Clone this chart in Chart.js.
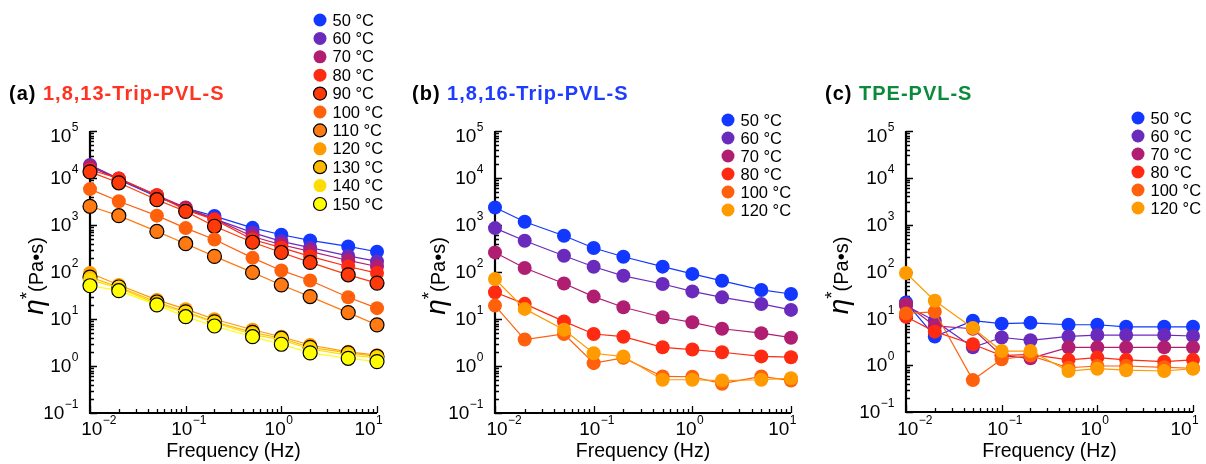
<!DOCTYPE html>
<html>
<head>
<meta charset="utf-8">
<script src="https://cdn.jsdelivr.net/npm/chart.js@4.4.0/dist/chart.umd.min.js"></script>
<style>
  html, body { margin: 0; padding: 0; background: #fff; }
  #wrap { position: relative; width: 1206px; height: 464px; overflow: hidden; }
  canvas { position: absolute; top: 0; }
</style>
</head>
<body>
<div id="wrap">
  <canvas id="chartA" width="400" height="464" style="left:0px"></canvas>
  <canvas id="chartB" width="405" height="464" style="left:400px"></canvas>
  <canvas id="chartC" width="401" height="464" style="left:805px"></canvas>
</div>
<script>
// shared frequency sweep (Hz) and axis decades
const freqHz = [0.01, 0.02, 0.05, 0.1, 0.2, 0.5, 1, 2, 5, 10];
const xDecades = [-2, -1, 0, 1];
const yDecades = [-1, 0, 1, 2, 3, 4, 5];

// (a) 1,8,13-Trip-PVL-S, complex viscosity (Pa·s)
const tempsA = ['50 °C', '60 °C', '70 °C', '80 °C', '90 °C', '100 °C', '110 °C', '120 °C', '130 °C', '140 °C', '150 °C'];
const a50 = [18000, 9200, 4000, 2300, 1550, 870, 620, 470, 350, 270];
const a60 = [19000, 9600, 4200, 2200, 1350, 690, 450, 330, 220, 168];
const a70 = [17500, 9700, 4300, 2350, 1350, 570, 380, 275, 176, 131];
const a80 = [15000, 9800, 4300, 2100, 1300, 490, 330, 215, 131, 95];
const a90 = [13500, 7900, 3450, 1950, 940, 430, 260, 160, 87, 58];
const a100 = [5800, 3200, 1580, 860, 490, 200, 108, 66, 29, 17];
const a110 = [2500, 1580, 730, 400, 215, 98, 53, 30, 13.7, 7.5];
const a120 = [95, 53, 25.5, 16.2, 9.9, 5.9, 4.2, 2.8, 2.0, 1.7];
const a130 = [78, 48, 23, 14.2, 8.7, 5.2, 3.9, 2.5, 1.9, 1.6];
const a140 = [68, 46, 21, 13.6, 8.3, 4.7, 3.6, 2.3, 1.7, 1.5];
const a150 = [51, 40, 20, 11.2, 7.1, 4.2, 2.9, 1.9, 1.46, 1.24];

// (b) 1,8,16-Trip-PVL-S
const tempsB = ['50 °C', '60 °C', '70 °C', '80 °C', '100 °C', '120 °C'];
const b50 = [2350, 1170, 590, 324, 211, 130, 91, 65, 41.5, 34];
const b60 = [860, 462, 222, 129, 83, 55.6, 38.7, 28.9, 20.9, 15.6];
const b70 = [261, 122, 57, 30, 17.8, 10.9, 8.5, 6.2, 5.0, 4.0];
const b80 = [37, 21, 8.9, 4.8, 4.2, 2.5, 2.24, 1.96, 1.6, 1.54];
const b100 = [19.3, 3.65, 4.8, 1.15, 1.49, 0.6, 0.59, 0.42, 0.6, 0.49];
const b120 = [71, 16.4, 5.9, 1.87, 1.59, 0.51, 0.51, 0.49, 0.51, 0.55];

// (c) TPE-PVL-S
const tempsC = ['50 °C', '60 °C', '70 °C', '80 °C', '100 °C', '120 °C'];
const c50 = [21.8, 4.1, 8.9, 7.7, 8.0, 7.3, 7.3, 6.6, 6.6, 6.6];
const c60 = [18.5, 8.9, 2.4, 3.9, 3.4, 4.1, 4.4, 4.4, 4.4, 4.2];
const c70 = [20, 6.9, 6.0, 1.6, 1.4, 2.4, 2.4, 2.4, 2.4, 2.4];
const c80 = [10.8, 5.2, 2.8, 1.6, 1.7, 1.3, 1.45, 1.3, 1.19, 1.3];
const c100 = [12.7, 13.8, 0.48, 1.34, 1.6, 0.88, 0.96, 0.96, 0.9, 0.86];
const c120 = [93, 23.7, 6.2, 2.0, 2.0, 0.75, 0.84, 0.78, 0.75, 0.84];

const tempColor = {
  '50 °C': '#1237ff', '60 °C': '#6a2bbd', '70 °C': '#b01e72', '80 °C': '#ff2a12',
  '90 °C': '#ff3a0a', '100 °C': '#ff600c', '110 °C': '#ff7a12', '120 °C': '#ff9a00',
  '130 °C': '#ffb900', '140 °C': '#ffdc00', '150 °C': '#ffff00'
};
const FONT = '"Liberation Sans", Arial, Helvetica, sans-serif';

function makeSets(temps, series, outlined) {
  return temps.map((t, i) => {
    const col = tempColor[t];
    const edge = outlined.includes(t);
    return {
      label: t,
      data: freqHz.map((f, k) => ({ x: f, y: series[i][k] })),
      borderColor: col,
      backgroundColor: col,
      borderWidth: 1.2,
      pointRadius: 7,
      pointBackgroundColor: col,
      pointBorderColor: edge ? '#000' : col,
      pointBorderWidth: edge ? 1.2 : 0,
      edge: edge,
      clip: false,
      order: -i
    };
  });
}

function powLabel(ctx, exp, cx, cy, align) {
  const base = '10';
  const sup = exp < 0 ? '\u2212' + (-exp) : String(exp);
  ctx.font = '19px ' + FONT;
  const wb = ctx.measureText(base).width;
  ctx.font = '12px ' + FONT;
  const ws = ctx.measureText(sup).width;
  const x0 = align === 'right' ? cx - wb - ws : cx - (wb + ws) / 2;
  ctx.textAlign = 'left';
  ctx.textBaseline = 'middle';
  ctx.font = '19px ' + FONT;
  ctx.fillText(base, x0, cy);
  ctx.font = '12px ' + FONT;
  ctx.fillText(sup, x0 + wb + 0.5, cy - 9);
}

// axes with inward ticks, power-of-ten labels, titles and the side legend
const panelDecor = {
  id: 'panelDecor',
  beforeDatasetsDraw(chart, args, o) {
    const { ctx, chartArea: a, scales: { x, y } } = chart;
    ctx.save();
    ctx.strokeStyle = '#000';
    ctx.lineWidth = 1.3;
    ctx.beginPath();
    yDecades.forEach(d => {
      for (let m = 1; m <= 9; m++) {
        const v = m * Math.pow(10, d);
        if (v < y.min * 0.999 || v > y.max * 1.001) continue;
        const py = Math.round(y.getPixelForValue(v)) + 0.5;
        ctx.moveTo(a.left, py);
        ctx.lineTo(a.left + (m === 1 ? 7 : 4), py);
      }
    });
    xDecades.forEach(d => {
      for (let m = 1; m <= 9; m++) {
        const v = m * Math.pow(10, d);
        if (v < x.min * 0.999 || v > x.max * 1.001) continue;
        const px = Math.round(x.getPixelForValue(v)) + 0.5;
        ctx.moveTo(px, a.bottom);
        ctx.lineTo(px, a.bottom - (m === 1 ? 7 : 4));
      }
    });
    ctx.stroke();
    ctx.lineWidth = 2.2;
    ctx.beginPath();
    ctx.moveTo(a.left, a.top);
    ctx.lineTo(a.left, a.bottom);
    ctx.lineTo(a.right, a.bottom);
    ctx.stroke();
    ctx.restore();
  },
  afterDraw(chart, args, o) {
    const { ctx, chartArea: a, scales: { x, y } } = chart;
    const midX = (a.left + a.right) / 2;
    const topDecade = yDecades[yDecades.length - 1];
    ctx.save();
    ctx.fillStyle = '#000';
    // the top label hangs just below the axis end
    yDecades.forEach(d => {
      const py = y.getPixelForValue(Math.pow(10, d)) + (d === topDecade ? 6 : 1);
      powLabel(ctx, d, a.left - 12, py, 'right');
    });
    // frequency labels sit slightly pulled in toward the middle of the axis
    xDecades.forEach(d => {
      const px = x.getPixelForValue(Math.pow(10, d));
      powLabel(ctx, d, px + (midX - px) * 0.06, 430, 'center');
    });

    // x title
    ctx.font = '19.5px ' + FONT;
    ctx.textAlign = 'center';
    ctx.textBaseline = 'alphabetic';
    ctx.fillText('Frequency (Hz)', midX, 457);

    // y title: eta* (Pa•s), rotated
    const parts = [
      { t: '\u03B7', f: 'italic 28px ' + FONT, dy: 0 },
      { t: '*', f: '19px ' + FONT, dy: -10 },
      { t: '(Pa\u2022s)', f: '20px ' + FONT, dy: 0 }
    ];
    let total = 0;
    parts.forEach(p => { ctx.font = p.f; p.w = ctx.measureText(p.t).width; total += p.w; });
    ctx.translate(o.yTitleX, (a.top + a.bottom) / 2 + 4);
    ctx.rotate(-Math.PI / 2);
    ctx.textAlign = 'left';
    let u = -total / 2;
    parts.forEach(p => { ctx.font = p.f; ctx.fillText(p.t, u, p.dy); u += p.w; });
    ctx.setTransform(1, 0, 0, 1, 0, 0);

    // panel heading
    ctx.font = 'bold 20px ' + FONT;
    ctx.letterSpacing = '1px';
    ctx.textAlign = 'left';
    ctx.fillStyle = '#000';
    ctx.fillText(o.tag, o.titleX, 100);
    const wt = ctx.measureText(o.tag + ' ').width;
    ctx.fillStyle = o.nameColor;
    ctx.fillText(o.name, o.titleX + wt, 100);
    ctx.letterSpacing = '0px';

    // legend
    ctx.font = '16.5px ' + FONT;
    ctx.textBaseline = 'middle';
    chart.data.datasets.forEach((ds, i) => {
      const cy = o.legendY + i * o.legendStep;
      ctx.beginPath();
      ctx.arc(o.legendX, cy, 6.5, 0, Math.PI * 2);
      ctx.fillStyle = ds.backgroundColor;
      ctx.fill();
      if (ds.edge) {
        ctx.lineWidth = 1.2;
        ctx.strokeStyle = '#000';
        ctx.stroke();
      }
      ctx.fillStyle = '#000';
      ctx.fillText(ds.label, o.legendX + 12.5, cy + 1);
    });
    ctx.restore();
  }
};

function makeChart(id, sets, pad, decor) {
  return new Chart(document.getElementById(id), {
    type: 'line',
    data: { datasets: sets },
    plugins: [panelDecor],
    options: {
      responsive: false,
      animation: false,
      devicePixelRatio: 1,
      layout: { padding: pad },
      plugins: {
        legend: { display: false },
        tooltip: { enabled: false },
        panelDecor: decor
      },
      scales: {
        x: {
          type: 'logarithmic', min: 0.01, max: 10,
          grid: { display: false, drawTicks: false },
          border: { display: false },
          ticks: { display: false },
          afterFit(s) { s.height = 0; }
        },
        y: {
          type: 'logarithmic', min: 0.1, max: 100000,
          grid: { display: false, drawTicks: false },
          border: { display: false },
          ticks: { display: false },
          afterFit(s) { s.width = 0; }
        }
      }
    }
  });
}

makeChart('chartA',
  makeSets(tempsA, [a50, a60, a70, a80, a90, a100, a110, a120, a130, a140, a150], ['90 °C', '110 °C', '130 °C', '150 °C']),
  { left: 90, right: 23, top: 131, bottom: 51 },
  { tag: '(a)', name: '1,8,13-Trip-PVL-S', nameColor: '#ff3320', titleX: 9, yTitleX: 43,
    legendX: 320, legendY: 20, legendStep: 18.4 });

makeChart('chartB',
  makeSets(tempsB, [b50, b60, b70, b80, b100, b120], []),
  { left: 95, right: 14, top: 131, bottom: 51 },
  { tag: '(b)', name: '1,8,16-Trip-PVL-S', nameColor: '#1e3cff', titleX: 12, yTitleX: 45,
    legendX: 328, legendY: 120, legendStep: 18 });

makeChart('chartC',
  makeSets(tempsC, [c50, c60, c70, c80, c100, c120], []),
  { left: 101, right: 13, top: 131, bottom: 52 },
  { tag: '(c)', name: 'TPE-PVL-S', nameColor: '#0a8a3a', titleX: 20, yTitleX: 43,
    legendX: 333, legendY: 118, legendStep: 18 });
</script>
</body>
</html>
